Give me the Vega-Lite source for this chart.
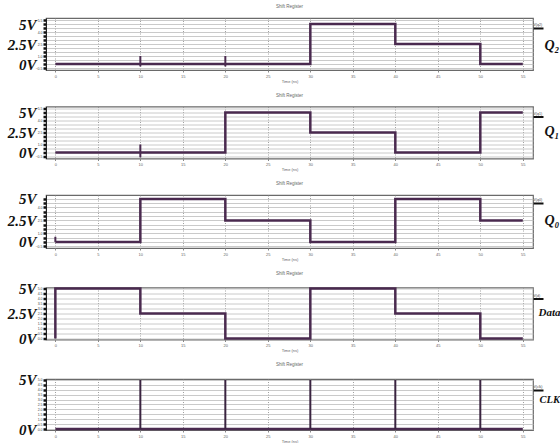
{
  "$schema": "https://vega.github.io/schema/vega-lite/v6.json",
  "padding": {"left": 6, "top": 3, "right": 0, "bottom": 0},
  "background": "white",
  "spacing": 7.5,
  "datasets": {
    "wave": [
      {"s": "Q2", "i": 0, "t": 0, "v": 0}, {"s": "Q2", "i": 1, "t": 30, "v": 5}, {"s": "Q2", "i": 2, "t": 40, "v": 2.5}, {"s": "Q2", "i": 3, "t": 50, "v": 0}, {"s": "Q2", "i": 4, "t": 55, "v": 0},
      {"s": "Q1", "i": 0, "t": 0, "v": 0}, {"s": "Q1", "i": 1, "t": 20, "v": 5}, {"s": "Q1", "i": 2, "t": 30, "v": 2.5}, {"s": "Q1", "i": 3, "t": 40, "v": 0}, {"s": "Q1", "i": 4, "t": 50, "v": 5}, {"s": "Q1", "i": 5, "t": 55, "v": 5},
      {"s": "Q0", "i": 0, "t": 0, "v": 0}, {"s": "Q0", "i": 1, "t": 10, "v": 5}, {"s": "Q0", "i": 2, "t": 20, "v": 2.5}, {"s": "Q0", "i": 3, "t": 30, "v": 0}, {"s": "Q0", "i": 4, "t": 40, "v": 5}, {"s": "Q0", "i": 5, "t": 50, "v": 2.5}, {"s": "Q0", "i": 6, "t": 55, "v": 2.5},
      {"s": "Data", "i": 0, "t": 0, "v": 0}, {"s": "Data", "i": 1, "t": 0, "v": 5}, {"s": "Data", "i": 2, "t": 10, "v": 2.5}, {"s": "Data", "i": 3, "t": 20, "v": 0}, {"s": "Data", "i": 4, "t": 30, "v": 5}, {"s": "Data", "i": 5, "t": 40, "v": 2.5}, {"s": "Data", "i": 6, "t": 50, "v": 0}, {"s": "Data", "i": 7, "t": 55, "v": 0},
      {"s": "CLK", "i": 0, "t": 0, "v": 0}, {"s": "CLK", "i": 1, "t": 55, "v": 0}
    ],
    "spikes": [
      {"s": "Q2", "t": 10, "lo": -0.3, "hi": 1.0}, {"s": "Q2", "t": 20, "lo": -0.3, "hi": 1.0},
      {"s": "Q1", "t": 10, "lo": -0.6, "hi": 1.0},
      {"s": "Q0", "t": 0, "lo": 0, "hi": 0.6},
      {"s": "CLK", "t": 10, "lo": 0, "hi": 5}, {"s": "CLK", "t": 20, "lo": 0, "hi": 5}, {"s": "CLK", "t": 30, "lo": 0, "hi": 5}, {"s": "CLK", "t": 40, "lo": 0, "hi": 5}, {"s": "CLK", "t": 50, "lo": 0, "hi": 5}
    ]
  },
  "vconcat": [
    {
      "title": "Shift Register", "width": 487, "height": 52,
      "layer": [
        {"data": {"name": "wave"}, "transform": [{"filter": "datum.s == 'Q2'"}],
         "mark": {"type": "line", "interpolate": "step-after", "color": "#4a2a4f", "strokeWidth": 2.5},
         "encoding": {
           "x": {"field": "t", "type": "quantitative", "scale": {"domain": [-1.1, 56.2], "nice": false, "zero": false}, "axis": {"values": [0,5,10,15,20,25,30,35,40,45,50,55], "title": "Time (ns)"}},
           "y": {"field": "v", "type": "quantitative", "scale": {"domain": [-0.75, 5.75], "nice": false, "zero": false},
                 "axis": {"orient": "left", "values": [-0.5,0,0.5,1,1.5,2,2.5,3,3.5,4,4.5,5,5.5], "labelExpr": "(datum.value*2+1) % 3 == 0 ? format(datum.value, '.1f') : ''", "labelFontSize": 3.5, "labelColor": "#444", "labelPadding": 1, "tickSize": 3, "tickWidth": 2.5, "tickColor": "#111", "domainColor": "#222", "grid": false, "title": null, "labelOverlap": false, "labelBound": false, "labelFlush": false}},
           "order": {"field": "i"}
         }},
        {"data": {"name": "spikes"}, "transform": [{"filter": "datum.s == 'Q2'"}],
         "mark": {"type": "rule", "color": "#4a2a4f", "strokeWidth": 2},
         "encoding": {
           "x": {"field": "t", "type": "quantitative", "scale": {"domain": [-1.1, 56.2], "nice": false, "zero": false}, "axis": {"values": [0,5,10,15,20,25,30,35,40,45,50,55], "title": "Time (ns)"}},
           "y": {"field": "lo", "type": "quantitative", "scale": {"domain": [-0.75, 5.75], "nice": false, "zero": false},
                 "axis": {"orient": "left", "values": [0, 2.5, 5], "labelExpr": "datum.value + 'V'", "labelFont": "Liberation Serif", "labelFontSize": 15, "labelFontStyle": "italic", "labelFontWeight": "bold", "labelColor": "#111", "ticks": false, "tickSize": 0, "domain": false, "grid": false, "labelPadding": 10, "title": null, "minExtent": 37, "maxExtent": 37, "labelOverlap": false, "labelFlush": false}},
           "y2": {"field": "hi"}
         }},
        {"data": {"name": "wave"}, "transform": [{"filter": "datum.s == 'Q2'"}],
         "mark": {"type": "point", "opacity": 0},
         "encoding": {
           "x": {"field": "t", "type": "quantitative", "scale": {"domain": [-1.1, 56.2], "nice": false, "zero": false}, "axis": {"values": [0,5,10,15,20,25,30,35,40,45,50,55], "title": "Time (ns)"}},
           "y": {"field": "v", "type": "quantitative", "scale": {"domain": [-0.75, 5.75], "nice": false, "zero": false},
                 "axis": {"orient": "right", "values": [-0.5,0,0.5,1,1.5,2,2.5,3,3.5,4,4.5,5,5.5], "grid": true, "gridColor": "#bdbdbd", "gridWidth": 0.8, "domain": false, "tickSize": 10, "tickWidth": 2, "tickColor": {"condition": {"test": "datum.value == 4.5", "value": "#111"}, "value": "transparent"}, "labelExpr": "datum.value == 4.5 ? 'V(q2)' : ''", "labelFontSize": 3.5, "labelPadding": -10, "labelAlign": "left", "labelBaseline": "bottom", "labelOffset": -1.5, "labelColor": "#444", "labelOverlap": false, "labelFlush": false,
                          "title": "Q₂", "titleAngle": 0, "titleX": 11, "titleY": 27, "titleAlign": "left", "titleBaseline": "middle", "titleFont": "Liberation Serif", "titleFontSize": 14, "titleFontStyle": "italic", "titleFontWeight": "bold", "titleColor": "#111"}}
         }}
      ],
      "resolve": {"axis": {"y": "independent"}}
    },
    {
      "title": "Shift Register", "width": 487, "height": 52,
      "layer": [
        {"data": {"name": "wave"}, "transform": [{"filter": "datum.s == 'Q1'"}],
         "mark": {"type": "line", "interpolate": "step-after", "color": "#4a2a4f", "strokeWidth": 2.5},
         "encoding": {
           "x": {"field": "t", "type": "quantitative", "scale": {"domain": [-1.1, 56.2], "nice": false, "zero": false}, "axis": {"values": [0,5,10,15,20,25,30,35,40,45,50,55], "title": "Time (ns)"}},
           "y": {"field": "v", "type": "quantitative", "scale": {"domain": [-0.75, 5.75], "nice": false, "zero": false},
                 "axis": {"orient": "left", "values": [-0.5,0,0.5,1,1.5,2,2.5,3,3.5,4,4.5,5,5.5], "labelExpr": "(datum.value*2+1) % 3 == 0 ? format(datum.value, '.1f') : ''", "labelFontSize": 3.5, "labelColor": "#444", "labelPadding": 1, "tickSize": 3, "tickWidth": 2.5, "tickColor": "#111", "domainColor": "#222", "grid": false, "title": null, "labelOverlap": false, "labelBound": false, "labelFlush": false}},
           "order": {"field": "i"}
         }},
        {"data": {"name": "spikes"}, "transform": [{"filter": "datum.s == 'Q1'"}],
         "mark": {"type": "rule", "color": "#4a2a4f", "strokeWidth": 2},
         "encoding": {
           "x": {"field": "t", "type": "quantitative", "scale": {"domain": [-1.1, 56.2], "nice": false, "zero": false}, "axis": {"values": [0,5,10,15,20,25,30,35,40,45,50,55], "title": "Time (ns)"}},
           "y": {"field": "lo", "type": "quantitative", "scale": {"domain": [-0.75, 5.75], "nice": false, "zero": false},
                 "axis": {"orient": "left", "values": [0, 2.5, 5], "labelExpr": "datum.value + 'V'", "labelFont": "Liberation Serif", "labelFontSize": 15, "labelFontStyle": "italic", "labelFontWeight": "bold", "labelColor": "#111", "ticks": false, "tickSize": 0, "domain": false, "grid": false, "labelPadding": 10, "title": null, "minExtent": 37, "maxExtent": 37, "labelOverlap": false, "labelFlush": false}},
           "y2": {"field": "hi"}
         }},
        {"data": {"name": "wave"}, "transform": [{"filter": "datum.s == 'Q1'"}],
         "mark": {"type": "point", "opacity": 0},
         "encoding": {
           "x": {"field": "t", "type": "quantitative", "scale": {"domain": [-1.1, 56.2], "nice": false, "zero": false}, "axis": {"values": [0,5,10,15,20,25,30,35,40,45,50,55], "title": "Time (ns)"}},
           "y": {"field": "v", "type": "quantitative", "scale": {"domain": [-0.75, 5.75], "nice": false, "zero": false},
                 "axis": {"orient": "right", "values": [-0.5,0,0.5,1,1.5,2,2.5,3,3.5,4,4.5,5,5.5], "grid": true, "gridColor": "#bdbdbd", "gridWidth": 0.8, "domain": false, "tickSize": 10, "tickWidth": 2, "tickColor": {"condition": {"test": "datum.value == 4.5", "value": "#111"}, "value": "transparent"}, "labelExpr": "datum.value == 4.5 ? 'V(q1)' : ''", "labelFontSize": 3.5, "labelPadding": -10, "labelAlign": "left", "labelBaseline": "bottom", "labelOffset": -1.5, "labelColor": "#444", "labelOverlap": false, "labelFlush": false,
                          "title": "Q₁", "titleAngle": 0, "titleX": 11, "titleY": 25, "titleAlign": "left", "titleBaseline": "middle", "titleFont": "Liberation Serif", "titleFontSize": 14, "titleFontStyle": "italic", "titleFontWeight": "bold", "titleColor": "#111"}}
         }}
      ],
      "resolve": {"axis": {"y": "independent"}}
    },
    {
      "title": "Shift Register", "width": 487, "height": 53,
      "layer": [
        {"data": {"name": "wave"}, "transform": [{"filter": "datum.s == 'Q0'"}],
         "mark": {"type": "line", "interpolate": "step-after", "color": "#4a2a4f", "strokeWidth": 2.5},
         "encoding": {
           "x": {"field": "t", "type": "quantitative", "scale": {"domain": [-1.1, 56.2], "nice": false, "zero": false}, "axis": {"values": [0,5,10,15,20,25,30,35,40,45,50,55], "title": "Time (ns)"}},
           "y": {"field": "v", "type": "quantitative", "scale": {"domain": [-0.7, 5.45], "nice": false, "zero": false},
                 "axis": {"orient": "left", "values": [-0.5,0,0.5,1,1.5,2,2.5,3,3.5,4,4.5,5], "labelExpr": "(datum.value*2+1) % 3 == 0 ? format(datum.value, '.1f') : ''", "labelFontSize": 3.5, "labelColor": "#444", "labelPadding": 1, "tickSize": 3, "tickWidth": 2.5, "tickColor": "#111", "domainColor": "#222", "grid": false, "title": null, "labelOverlap": false, "labelBound": false, "labelFlush": false}},
           "order": {"field": "i"}
         }},
        {"data": {"name": "spikes"}, "transform": [{"filter": "datum.s == 'Q0'"}],
         "mark": {"type": "rule", "color": "#4a2a4f", "strokeWidth": 2},
         "encoding": {
           "x": {"field": "t", "type": "quantitative", "scale": {"domain": [-1.1, 56.2], "nice": false, "zero": false}, "axis": {"values": [0,5,10,15,20,25,30,35,40,45,50,55], "title": "Time (ns)"}},
           "y": {"field": "lo", "type": "quantitative", "scale": {"domain": [-0.7, 5.45], "nice": false, "zero": false},
                 "axis": {"orient": "left", "values": [0, 2.5, 5], "labelExpr": "datum.value + 'V'", "labelFont": "Liberation Serif", "labelFontSize": 15, "labelFontStyle": "italic", "labelFontWeight": "bold", "labelColor": "#111", "ticks": false, "tickSize": 0, "domain": false, "grid": false, "labelPadding": 10, "title": null, "minExtent": 37, "maxExtent": 37, "labelOverlap": false, "labelFlush": false}},
           "y2": {"field": "hi"}
         }},
        {"data": {"name": "wave"}, "transform": [{"filter": "datum.s == 'Q0'"}],
         "mark": {"type": "point", "opacity": 0},
         "encoding": {
           "x": {"field": "t", "type": "quantitative", "scale": {"domain": [-1.1, 56.2], "nice": false, "zero": false}, "axis": {"values": [0,5,10,15,20,25,30,35,40,45,50,55], "title": "Time (ns)"}},
           "y": {"field": "v", "type": "quantitative", "scale": {"domain": [-0.7, 5.45], "nice": false, "zero": false},
                 "axis": {"orient": "right", "values": [-0.5,0,0.5,1,1.5,2,2.5,3,3.5,4,4.5,5], "grid": true, "gridColor": "#bdbdbd", "gridWidth": 0.8, "domain": false, "tickSize": 10, "tickWidth": 2, "tickColor": {"condition": {"test": "datum.value == 4.5", "value": "#111"}, "value": "transparent"}, "labelExpr": "datum.value == 4.5 ? 'V(q0)' : ''", "labelFontSize": 3.5, "labelPadding": -10, "labelAlign": "left", "labelBaseline": "bottom", "labelOffset": -1.5, "labelColor": "#444", "labelOverlap": false, "labelFlush": false,
                          "title": "Q₀", "titleAngle": 0, "titleX": 11, "titleY": 25, "titleAlign": "left", "titleBaseline": "middle", "titleFont": "Liberation Serif", "titleFontSize": 14, "titleFontStyle": "italic", "titleFontWeight": "bold", "titleColor": "#111"}}
         }}
      ],
      "resolve": {"axis": {"y": "independent"}}
    },
    {
      "title": "Shift Register", "width": 487, "height": 52,
      "layer": [
        {"data": {"name": "wave"}, "transform": [{"filter": "datum.s == 'Data'"}],
         "mark": {"type": "line", "interpolate": "step-after", "color": "#4a2a4f", "strokeWidth": 2.5},
         "encoding": {
           "x": {"field": "t", "type": "quantitative", "scale": {"domain": [-1.1, 56.2], "nice": false, "zero": false}, "axis": {"values": [0,5,10,15,20,25,30,35,40,45,50,55], "title": "Time (ns)"}},
           "y": {"field": "v", "type": "quantitative", "scale": {"domain": [-0.1, 5.1], "nice": false, "zero": false},
                 "axis": {"orient": "left", "values": [0,0.5,1,1.5,2,2.5,3,3.5,4,4.5,5], "format": ".1f", "labelFontSize": 3.5, "labelColor": "#444", "labelPadding": 1, "tickSize": 3, "tickWidth": 2.5, "tickColor": "#111", "domainColor": "#222", "grid": false, "title": null, "labelOverlap": false, "labelBound": false, "labelFlush": false}},
           "order": {"field": "i"}
         }},
        {"data": {"name": "spikes"}, "transform": [{"filter": "datum.s == 'Data'"}],
         "mark": {"type": "rule", "color": "#4a2a4f", "strokeWidth": 2},
         "encoding": {
           "x": {"field": "t", "type": "quantitative", "scale": {"domain": [-1.1, 56.2], "nice": false, "zero": false}, "axis": {"values": [0,5,10,15,20,25,30,35,40,45,50,55], "title": "Time (ns)"}},
           "y": {"field": "lo", "type": "quantitative", "scale": {"domain": [-0.1, 5.1], "nice": false, "zero": false},
                 "axis": {"orient": "left", "values": [0, 2.5, 5], "labelExpr": "datum.value + 'V'", "labelFont": "Liberation Serif", "labelFontSize": 15, "labelFontStyle": "italic", "labelFontWeight": "bold", "labelColor": "#111", "ticks": false, "tickSize": 0, "domain": false, "grid": false, "labelPadding": 10, "title": null, "minExtent": 37, "maxExtent": 37, "labelOverlap": false, "labelFlush": false}},
           "y2": {"field": "hi"}
         }},
        {"data": {"name": "wave"}, "transform": [{"filter": "datum.s == 'Data'"}],
         "mark": {"type": "point", "opacity": 0},
         "encoding": {
           "x": {"field": "t", "type": "quantitative", "scale": {"domain": [-1.1, 56.2], "nice": false, "zero": false}, "axis": {"values": [0,5,10,15,20,25,30,35,40,45,50,55], "title": "Time (ns)"}},
           "y": {"field": "v", "type": "quantitative", "scale": {"domain": [-0.1, 5.1], "nice": false, "zero": false},
                 "axis": {"orient": "right", "values": [0,0.5,1,1.5,2,2.5,3,3.5,4,4.5,5], "grid": true, "gridColor": "#bdbdbd", "gridWidth": 0.8, "domain": false, "tickSize": 10, "tickWidth": 2, "tickColor": {"condition": {"test": "datum.value == 4", "value": "#111"}, "value": "transparent"}, "labelExpr": "datum.value == 4 ? 'V(d)' : ''", "labelFontSize": 3.5, "labelPadding": -10, "labelAlign": "left", "labelBaseline": "bottom", "labelOffset": -1.5, "labelColor": "#444", "labelOverlap": false, "labelFlush": false,
                          "title": "Data", "titleAngle": 0, "titleX": 5, "titleY": 25, "titleAlign": "left", "titleBaseline": "middle", "titleFont": "Liberation Serif", "titleFontSize": 11, "titleFontStyle": "italic", "titleFontWeight": "bold", "titleColor": "#111"}}
         }}
      ],
      "resolve": {"axis": {"y": "independent"}}
    },
    {
      "title": "Shift Register", "width": 487, "height": 51,
      "layer": [
        {"data": {"name": "wave"}, "transform": [{"filter": "datum.s == 'CLK'"}],
         "mark": {"type": "line", "interpolate": "step-after", "color": "#4a2a4f", "strokeWidth": 2.5},
         "encoding": {
           "x": {"field": "t", "type": "quantitative", "scale": {"domain": [-1.1, 56.2], "nice": false, "zero": false}, "axis": {"values": [0,5,10,15,20,25,30,35,40,45,50,55], "title": "Time (ns)"}},
           "y": {"field": "v", "type": "quantitative", "scale": {"domain": [-0.1, 5.1], "nice": false, "zero": false},
                 "axis": {"orient": "left", "values": [0,0.5,1,1.5,2,2.5,3,3.5,4,4.5,5], "format": ".1f", "labelFontSize": 3.5, "labelColor": "#444", "labelPadding": 1, "tickSize": 3, "tickWidth": 2.5, "tickColor": "#111", "domainColor": "#222", "grid": false, "title": null, "labelOverlap": false, "labelBound": false, "labelFlush": false}},
           "order": {"field": "i"}
         }},
        {"data": {"name": "spikes"}, "transform": [{"filter": "datum.s == 'CLK'"}],
         "mark": {"type": "rule", "color": "#3a2440", "strokeWidth": 2},
         "encoding": {
           "x": {"field": "t", "type": "quantitative", "scale": {"domain": [-1.1, 56.2], "nice": false, "zero": false}, "axis": {"values": [0,5,10,15,20,25,30,35,40,45,50,55], "title": "Time (ns)"}},
           "y": {"field": "lo", "type": "quantitative", "scale": {"domain": [-0.1, 5.1], "nice": false, "zero": false},
                 "axis": {"orient": "left", "values": [0, 5], "labelExpr": "datum.value + 'V'", "labelFont": "Liberation Serif", "labelFontSize": 15, "labelFontStyle": "italic", "labelFontWeight": "bold", "labelColor": "#111", "ticks": false, "tickSize": 0, "domain": false, "grid": false, "labelPadding": 10, "title": null, "minExtent": 37, "maxExtent": 37, "labelOverlap": false, "labelFlush": false}},
           "y2": {"field": "hi"}
         }},
        {"data": {"name": "wave"}, "transform": [{"filter": "datum.s == 'CLK'"}],
         "mark": {"type": "point", "opacity": 0},
         "encoding": {
           "x": {"field": "t", "type": "quantitative", "scale": {"domain": [-1.1, 56.2], "nice": false, "zero": false}, "axis": {"values": [0,5,10,15,20,25,30,35,40,45,50,55], "title": "Time (ns)"}},
           "y": {"field": "v", "type": "quantitative", "scale": {"domain": [-0.1, 5.1], "nice": false, "zero": false},
                 "axis": {"orient": "right", "values": [0,0.5,1,1.5,2,2.5,3,3.5,4,4.5,5], "grid": true, "gridColor": "#bdbdbd", "gridWidth": 0.8, "domain": false, "tickSize": 10, "tickWidth": 2, "tickColor": {"condition": {"test": "datum.value == 4", "value": "#111"}, "value": "transparent"}, "labelExpr": "datum.value == 4 ? 'V(clk)' : ''", "labelFontSize": 3.5, "labelPadding": -10, "labelAlign": "left", "labelBaseline": "bottom", "labelOffset": -1.5, "labelColor": "#444", "labelOverlap": false, "labelFlush": false,
                          "title": "CLK", "titleAngle": 0, "titleX": 6, "titleY": 20, "titleAlign": "left", "titleBaseline": "middle", "titleFont": "Liberation Serif", "titleFontSize": 10.5, "titleFontStyle": "italic", "titleFontWeight": "bold", "titleColor": "#111"}}
         }}
      ],
      "resolve": {"axis": {"y": "independent"}}
    }
  ],
  "config": {
    "font": "Liberation Sans",
    "view": {"stroke": "#6a6a6a", "strokeWidth": 1.2},
    "title": {"fontSize": 4.5, "fontWeight": "normal", "color": "#666", "offset": 6, "font": "Liberation Sans"},
    "axisX": {"labelFontSize": 4, "labelColor": "#666", "tickSize": 2, "tickColor": "#888", "labelPadding": 2, "titleFontSize": 4, "titleFontWeight": "normal", "titleColor": "#666", "titlePadding": 1, "grid": true, "gridDash": [1, 1.5], "gridColor": "#888", "gridWidth": 0.8, "domain": false, "labelFlush": false, "labelOverlap": false}
  }
}
